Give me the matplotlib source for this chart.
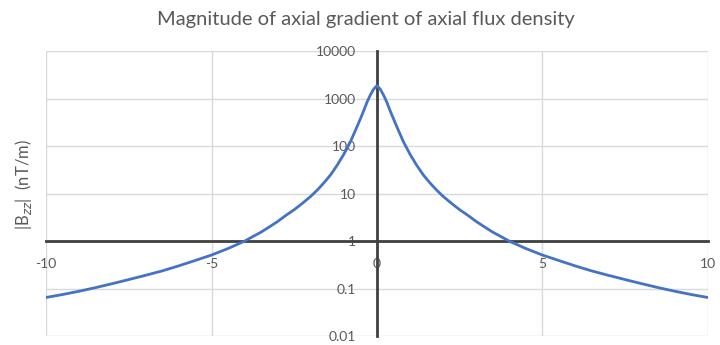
import numpy as np
import matplotlib
matplotlib.use('Agg')
import matplotlib.pyplot as plt

plt.rcParams['font.family'] = ['Lato', 'DejaVu Sans']

# values
z = [-10.0, -9.5, -9.0, -8.5, -8.0, -7.5, -7.0, -6.5, -6.0, -5.5, -5.0, -4.5,
     -4.0, -3.75, -3.5, -3.25, -3.0, -2.75, -2.5, -2.25, -2.0, -1.8, -1.6,
     -1.4, -1.2, -1.0, -0.8, -0.7, -0.6, -0.5, -0.4, -0.3, -0.2, -0.1, 0.0,
     0.1, 0.2, 0.3, 0.4, 0.5, 0.6, 0.7, 0.8, 1.0, 1.2, 1.4, 1.6, 1.8, 2.0,
     2.25, 2.5, 2.75, 3.0, 3.25, 3.5, 3.75, 4.0, 4.5, 5.0, 5.5, 6.0, 6.5,
     7.0, 7.5, 8.0, 8.5, 9.0, 9.5, 10.0]
bzz = [0.065, 0.075, 0.088, 0.105, 0.127, 0.155, 0.19, 0.235, 0.30, 0.39,
       0.51, 0.70, 1.0, 1.25, 1.55, 2.0, 2.6, 3.5, 4.6, 6.3, 8.8, 12, 17,
       25, 40, 68, 125, 180, 260, 380, 560, 850, 1200, 1600, 1900,
       1600, 1200, 850, 560, 380, 260, 180, 125, 68, 40, 25, 17, 12, 8.8,
       6.3, 4.6, 3.5, 2.6, 2.0, 1.55, 1.25, 1.0, 0.70, 0.51, 0.39, 0.30,
       0.235, 0.19, 0.155, 0.127, 0.105, 0.088, 0.075, 0.065]

x_ticks = [-10, -5, 0, 5, 10]
x_labels = ['-10', '-5', '0', '5', '10']
y_ticks = [0.01, 0.1, 1, 10, 100, 1000, 10000]
y_labels = ['0.01', '0.1', '1', '10', '100', '1000', '10000']

text_col = '#595959'
grid_col = '#d9d9d9'
axis_col = '#404040'

fig = plt.figure(figsize=(7.2, 3.45), dpi=100)
ax = fig.add_axes([0.064, 0.026, 0.919, 0.825])

ax.set_yscale('log')
ax.set_xlim(-10, 10)
ax.set_ylim(0.01, 10000)

# gridlines
for yv in y_ticks:
    ax.axhline(yv, color=grid_col, lw=1, zorder=0)
for xv in [-10, -5, 5, 10]:
    ax.axvline(xv, color=grid_col, lw=1, zorder=0)

ax.plot(z, bzz, color='#4472C4', lw=2, zorder=3)

for s in ['top', 'right']:
    ax.spines[s].set_visible(False)
ax.spines['left'].set_position(('data', 0))
ax.spines['bottom'].set_position(('data', 1))
for s in ['left', 'bottom']:
    ax.spines[s].set_color(axis_col)
    ax.spines[s].set_linewidth(2)
    ax.spines[s].set_zorder(2.5)

ax.set_xticks(x_ticks)
ax.set_xticklabels(x_labels)
ax.set_yticks(y_ticks)
ax.set_yticklabels(y_labels)
ax.minorticks_off()
ax.tick_params(axis='x', length=0, pad=12, labelsize=10, labelcolor=text_col)
ax.tick_params(axis='y', length=0, pad=15, labelsize=10, labelcolor=text_col)

fig.text(0.508, 1 - 20 / 345, 'Magnitude of axial gradient of axial flux density',
         ha='center', va='center', fontsize=14.5, color=text_col)
fig.text(0.033, 1 - 185 / 345, '|B$_{zz}$|  (nT/m)', rotation=90,
         ha='center', va='center', fontsize=12, color=text_col)

fig.savefig('out.png', dpi=100)
